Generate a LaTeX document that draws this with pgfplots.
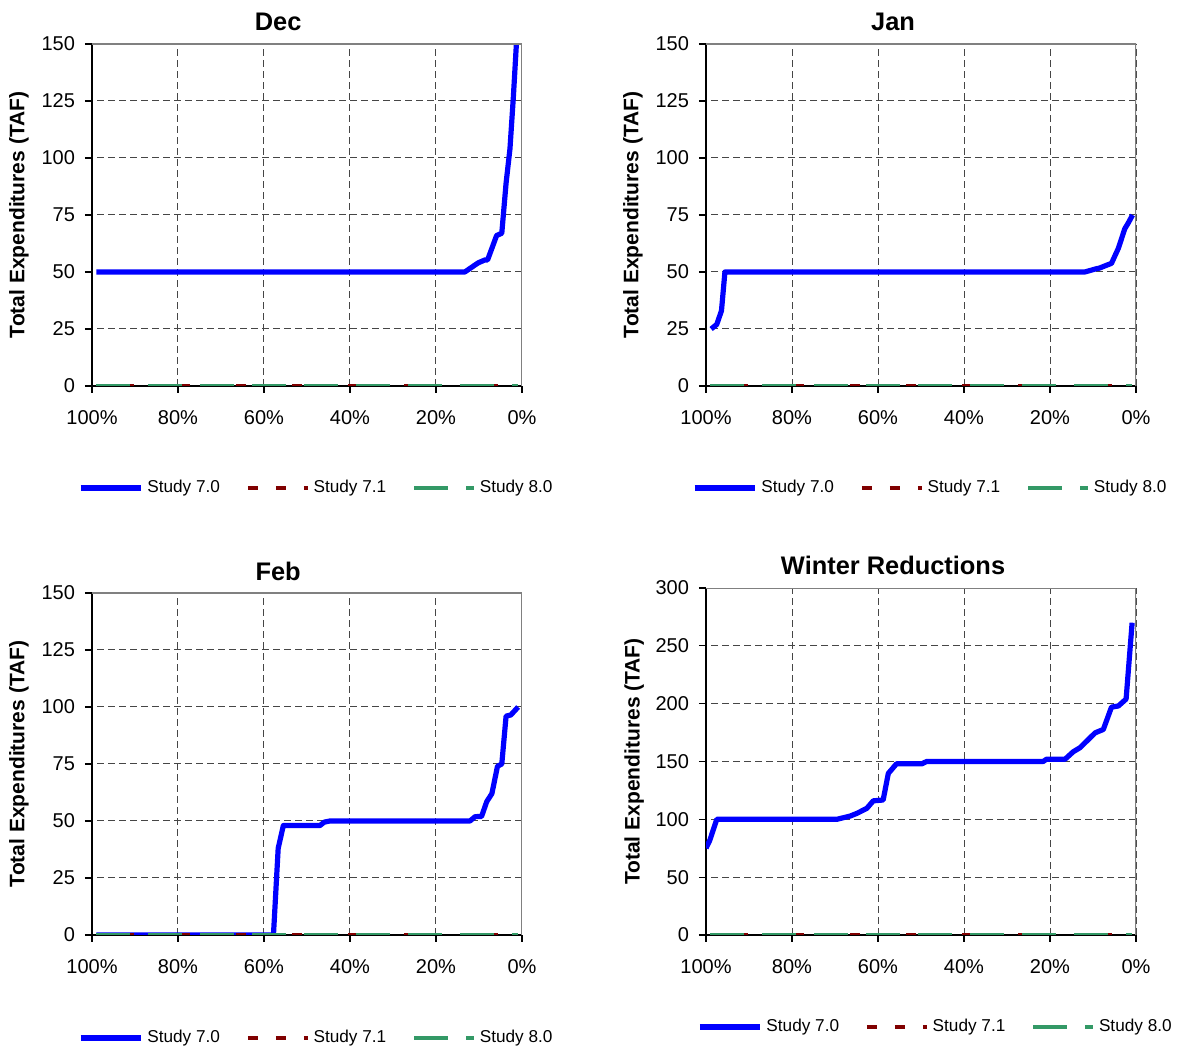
\documentclass[border=0pt]{standalone}
\usepackage{pgfplots}
\pgfplotsset{compat=1.18}
\usepackage{fontspec}
\setmainfont{Liberation Sans}
\definecolor{c70}{RGB}{0,0,255}
\definecolor{c71}{RGB}{128,0,0}
\definecolor{c80}{RGB}{51,153,102}
\definecolor{gridc}{RGB}{70,70,70}
\pgfplotsset{
 panel/.style={
  scale only axis,
  width=215pt,
  anchor=south west,
  axis lines=left,
  axis line style={-, black, line width=0.6pt},
  x dir=reverse,
  xmin=0, xmax=100,
  xtick={0,20,40,60,80,100},
  xticklabels={0\%,20\%,40\%,60\%,80\%,100\%},
  ymin=0,
  tick align=outside,
  major tick length=3.5pt,
  tick style={black, line width=0.6pt},
  grid=major,
  major grid style={gridc, line width=0.5pt, dash pattern=on 3.5pt off 2pt},
  tick label style={font=\fontsize{10}{12}\selectfont},
  yticklabel style={/pgf/number format/assume math mode=true, xshift=-1.5pt},
  xticklabel style={yshift=-5pt},
  ylabel={Total Expenditures (TAF)},
  ylabel style={font=\bfseries\fontsize{10.5}{12}\selectfont, at={(axis description cs:-0.17,0.5)}, anchor=center},
  title style={font=\bfseries\fontsize{12.7}{14}\selectfont, anchor=center, yshift=0pt},
  legend columns=3,
  legend style={draw=none, fill=none, font=\fontsize{8.6}{10}\selectfont, anchor=center,
    /tikz/every even column/.append style={column sep=11pt}},
  legend image code/.code={\draw[#1] (0pt,0pt) -- (30pt,0pt);},
 },
 line70/.style={c70, line width=2.6pt, line join=round, no markers},
 line71/.style={c71, line width=1.8pt, dash pattern=on 5pt off 9pt, no markers},
 line80/.style={c80, line width=1.8pt, dash pattern=on 17pt off 9pt, no markers},
}
\newcommand{\frameTR}{\draw[gray, line width=0.6pt] (rel axis cs:0,1) -- (rel axis cs:1,1) -- (rel axis cs:1,0);}
\begin{document}
\begin{tikzpicture}
\useasboundingbox (0,0) rectangle (589pt,524.5pt);
% Dec
\begin{axis}[panel, at={(46pt,331.5pt)}, height=171pt, ymax=150, ytick={0,25,...,150},
  title={Dec}, title style={at={(axis description cs:0.433,1.029)}},
  legend style={at={(0.524,-0.298)}}]
\addplot[line70] coordinates {(99,50) (13.3,50) (10.2,54) (8.6,55.3) (8.0,55.3) (5.9,66) (4.7,67) (3.7,89) (2.8,104) (2.0,127) (1.0,160)};
\addplot[line71] coordinates {(99,0) (0.9,0)};
\addplot[line80] coordinates {(99,0) (0.9,0)};
\legend{Study 7.0,Study 7.1,Study 8.0}
\frameTR
\end{axis}
% Jan
\begin{axis}[panel, at={(353pt,331.5pt)}, height=171pt, ymax=150, ytick={0,25,...,150},
  title={Jan}, title style={at={(axis description cs:0.435,1.029)}},
  legend style={at={(0.524,-0.298)}}]
\addplot[line70] coordinates {(98.8,25) (97.5,27) (96.4,33) (95.6,50) (11.9,50) (9.1,51.5) (8.8,51.5) (5.7,53.8) (4.1,60.4) (2.6,69) (1.8,71.5) (0.8,75)};
\addplot[line71] coordinates {(99,0) (0.9,0)};
\addplot[line80] coordinates {(99,0) (0.9,0)};
\legend{Study 7.0,Study 7.1,Study 8.0}
\frameTR
\end{axis}
% Feb
\begin{axis}[panel, at={(46pt,57pt)}, height=171pt, ymax=150, ytick={0,25,...,150},
  title={Feb}, title style={at={(axis description cs:0.433,1.029)}},
  legend style={at={(0.524,-0.301)}}]
\addplot[line70] coordinates {(99,0) (57.8,0) (56.7,38) (55.5,48) (47,48) (46,49.5) (44.7,50) (12.1,50) (10.9,51.9) (9.4,52) (8.2,58.5) (7.0,62) (5.7,74) (4.7,75) (3.7,96) (2.6,96.5) (0.9,100)};
\addplot[line71] coordinates {(99,0) (0.9,0)};
\addplot[line80] coordinates {(99,0) (0.9,0)};
\legend{Study 7.0,Study 7.1,Study 8.0}
\frameTR
\end{axis}
% Winter
\begin{axis}[panel, at={(353pt,57pt)}, height=173.5pt, ymax=300, ytick={0,50,...,300},
  title={Winter Reductions}, title style={at={(axis description cs:0.435,1.031)}},
  ylabel style={at={(axis description cs:-0.167,0.5)}},
  legend style={at={(0.536,-0.265)}}]
\addplot[line70] coordinates {(100,75) (99.1,82) (97.5,100) (69.6,100) (66.5,102.8) (65,105) (62.6,109.5) (61.1,116) (58.8,116.7) (57.6,139.7) (55.7,148) (49.8,148) (48.7,150) (21.6,150) (20.8,152) (16.5,152) (14.6,158.4) (13,162) (9.5,174.8) (7.6,177.7) (5.7,197) (4.1,198) (2.3,204) (0.9,270)};
\addplot[line71] coordinates {(99,0) (0.9,0)};
\addplot[line80] coordinates {(99,0) (0.9,0)};
\legend{Study 7.0,Study 7.1,Study 8.0}
\frameTR
\end{axis}
\end{tikzpicture}
\end{document}
